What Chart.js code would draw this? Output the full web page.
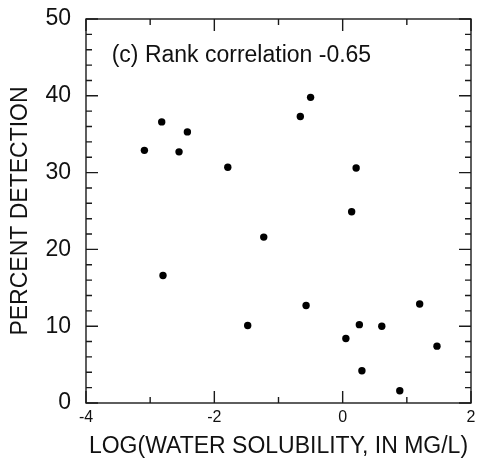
<!DOCTYPE html>
<html>
<head>
<meta charset="utf-8">
<script src="https://cdn.jsdelivr.net/npm/chart.js@4.4.1/dist/chart.umd.min.js"></script>
<style>
  html, body { margin: 0; padding: 0; background: #fff; }
</style>
</head>
<body>
<canvas id="scatter" width="480" height="467"></canvas>
<script>
// valores
const logSolubility = [-3.09, -2.82, -2.55, -2.42, -1.79, -0.66, -0.50, 0.21, 0.14, -1.23,
                       -2.80, -0.57, -1.48, 0.26, 0.61, 0.05, 1.20, 1.47, 0.30, 0.89];
const percentDetection = [32.9, 36.6, 32.7, 35.3, 30.7, 37.3, 39.8, 30.6, 24.9, 21.6,
                          16.6, 12.7, 10.1, 10.2, 10.0, 8.4, 12.9, 7.4, 4.2, 1.6];
const xTicks = [-4, -2, 0, 2];
const yTicks = [0, 10, 20, 30, 40, 50];
const note = '(c) Rank correlation -0.65';
const notePos = [-3.6, 45.2];

const FONT = "'Liberation Sans', Arial, Helvetica, sans-serif";

// moldura com marcas de escala para dentro
const framePlugin = {
  id: 'frame',
  afterDatasetsDraw(chart) {
    const { ctx, chartArea: a, scales: { x, y } } = chart;
    ctx.save();
    ctx.strokeStyle = '#1a1a1a';
    ctx.lineWidth = 1.4;
    ctx.strokeRect(a.left, a.top, a.right - a.left, a.bottom - a.top);

    ctx.beginPath();
    for (let v = x.min; v <= x.max; v += 1) {
      const px = x.getPixelForValue(v);
      const len = v % 2 === 0 ? 12 : 6;
      ctx.moveTo(px, a.bottom); ctx.lineTo(px, a.bottom - len);
      ctx.moveTo(px, a.top); ctx.lineTo(px, a.top + len);
    }
    for (let v = y.min; v <= y.max; v += 2) {
      const py = y.getPixelForValue(v);
      const len = v % 10 === 0 ? 12 : 6;
      ctx.moveTo(a.left, py); ctx.lineTo(a.left + len, py);
      ctx.moveTo(a.right, py); ctx.lineTo(a.right - len, py);
    }
    ctx.stroke();

    ctx.fillStyle = '#111';
    ctx.font = '23px ' + FONT;
    ctx.textAlign = 'left';
    ctx.textBaseline = 'middle';
    ctx.fillText(note, x.getPixelForValue(notePos[0]), y.getPixelForValue(notePos[1]));
    ctx.restore();
  }
};

const canvas = document.getElementById('scatter').getContext('2d');

new Chart(canvas, {
  type: 'scatter',
  data: {
    datasets: [{
      data: logSolubility.map((v, i) => ({ x: v, y: percentDetection[i] })),
      backgroundColor: '#000',
      borderWidth: 0,
      pointRadius: 3.7
    }]
  },
  options: {
    responsive: false,
    animation: false,
    layout: { padding: { top: 19, right: 9, left: 0, bottom: 0 } },
    plugins: {
      legend: { display: false },
      tooltip: { enabled: false }
    },
    scales: {
      x: {
        type: 'linear',
        min: -4,
        max: 2,
        afterBuildTicks: s => { s.ticks = xTicks.map(v => ({ value: v })); },
        afterFit: s => { s.height = 64; s.paddingLeft = 0; s.paddingRight = 0; },
        grid: { display: false, drawTicks: false },
        border: { display: false },
        ticks: { color: '#111', padding: 5, font: { family: FONT, size: 16 } },
        title: {
          display: true,
          text: 'LOG(WATER SOLUBILITY, IN MG/L)',
          color: '#111',
          padding: { top: 0, bottom: 7 },
          font: { family: FONT, size: 23 }
        }
      },
      y: {
        type: 'linear',
        min: 0,
        max: 50,
        afterBuildTicks: s => { s.ticks = yTicks.map(v => ({ value: v })); },
        afterFit: s => { s.width = 86; s.paddingTop = 0; s.paddingBottom = 0; },
        grid: { display: false, drawTicks: false },
        border: { display: false },
        ticks: { color: '#111', padding: 15, font: { family: FONT, size: 23 } },
        title: {
          display: true,
          text: 'PERCENT DETECTION',
          color: '#111',
          padding: { top: 7, bottom: 0 },
          font: { family: FONT, size: 23 }
        }
      }
    }
  },
  plugins: [framePlugin]
});
</script>
</body>
</html>
